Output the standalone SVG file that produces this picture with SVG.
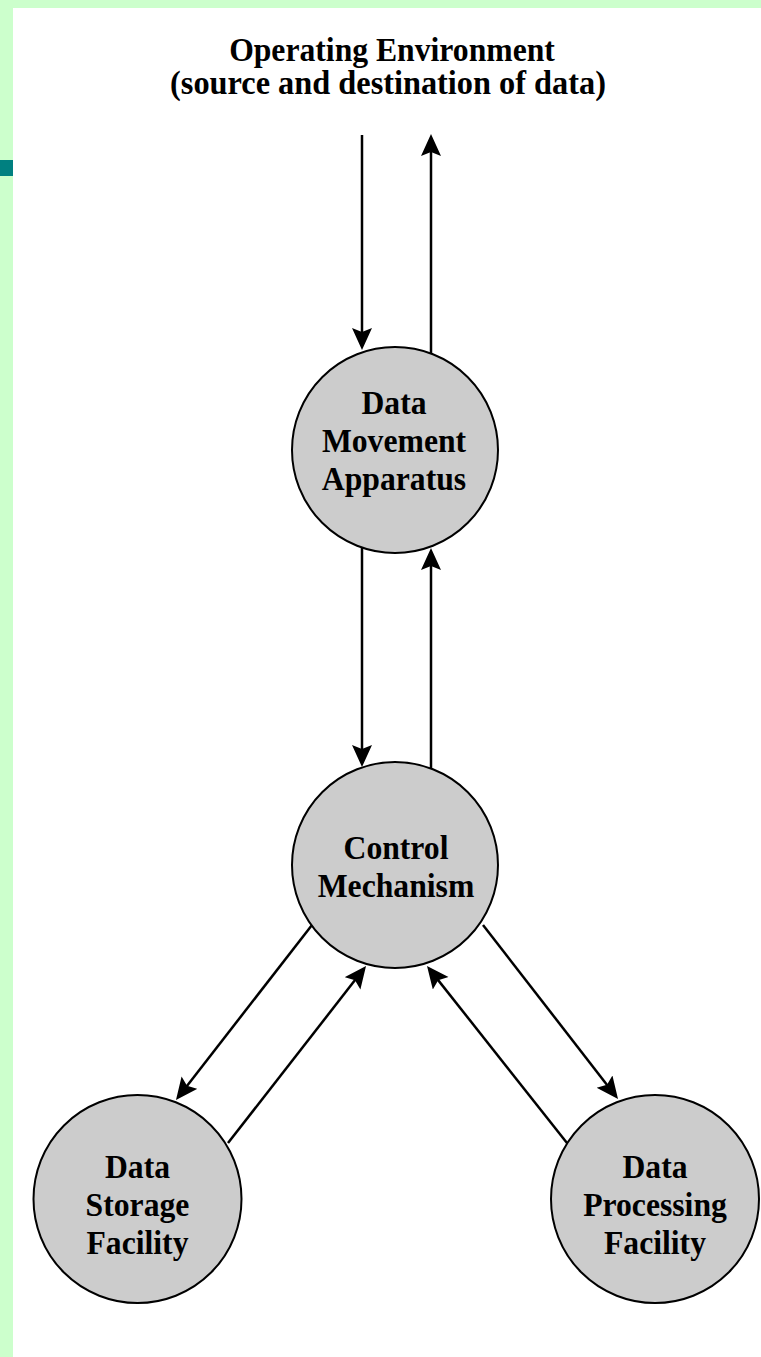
<svg xmlns="http://www.w3.org/2000/svg" width="761" height="1357" viewBox="0 0 761 1357">
  <style>
    .node { fill: #cccccc; stroke: #000000; stroke-width: 2; }
    .label { font-family: "Liberation Serif", "Times New Roman", serif; font-weight: bold; font-size: 33px; fill: #000000; text-anchor: middle; }
    .flow { stroke: #000000; stroke-width: 2.5; fill: none; marker-end: url(#head); }
  </style>
  <defs>
    <marker id="head" markerUnits="userSpaceOnUse" markerWidth="24" markerHeight="22" refX="13" refY="10" orient="auto">
      <path d="M0,0 L22,10 L0,20 L4,10 Z" fill="#000000"/>
    </marker>
  </defs>

  <!-- page frame -->
  <rect x="0" y="0" width="761" height="1357" fill="#ccffcc"/>
  <rect x="13" y="8" width="748" height="1349" fill="#ffffff"/>
  <rect x="0" y="160" width="13" height="16" fill="#008080"/>

  <!-- heading -->
  <g id="environment">
    <text class="label" transform="translate(392 61) scale(0.96 1)">Operating Environment</text>
    <text class="label" transform="translate(388 94) scale(0.98 1)">(source and destination of data)</text>
  </g>

  <!-- connectors -->
  <g id="connectors">
    <line class="flow" x1="362" y1="135" x2="362" y2="341"/>
    <line class="flow" x1="431" y1="354" x2="431" y2="143"/>
    <line class="flow" x1="362" y1="548" x2="362" y2="758"/>
    <line class="flow" x1="431" y1="769" x2="431" y2="557"/>
    <line class="flow" x1="312" y1="925" x2="181.5" y2="1092.9"/>
    <line class="flow" x1="228" y1="1143" x2="360.5" y2="973.1"/>
    <line class="flow" x1="567" y1="1143" x2="432.6" y2="973.1"/>
    <line class="flow" x1="483" y1="925" x2="612.5" y2="1091.9"/>
  </g>

  <!-- nodes -->
  <g id="data-movement">
    <circle class="node" cx="395" cy="450" r="103"/>
    <text class="label" transform="translate(394 414) scale(0.96 1)">Data</text>
    <text class="label" transform="translate(394 452) scale(0.96 1)">Movement</text>
    <text class="label" transform="translate(394 490) scale(0.96 1)">Apparatus</text>
  </g>

  <g id="control">
    <circle class="node" cx="395" cy="865" r="103"/>
    <text class="label" transform="translate(396 859) scale(0.96 1)">Control</text>
    <text class="label" transform="translate(396 897) scale(0.96 1)">Mechanism</text>
  </g>

  <g id="data-storage">
    <circle class="node" cx="137.5" cy="1199" r="104"/>
    <text class="label" transform="translate(137.5 1178) scale(0.96 1)">Data</text>
    <text class="label" transform="translate(137.5 1216) scale(0.96 1)">Storage</text>
    <text class="label" transform="translate(137.5 1254) scale(0.96 1)">Facility</text>
  </g>

  <g id="data-processing">
    <circle class="node" cx="655" cy="1199" r="104"/>
    <text class="label" transform="translate(655 1178) scale(0.96 1)">Data</text>
    <text class="label" transform="translate(655 1216) scale(0.96 1)">Processing</text>
    <text class="label" transform="translate(655 1254) scale(0.96 1)">Facility</text>
  </g>
</svg>
